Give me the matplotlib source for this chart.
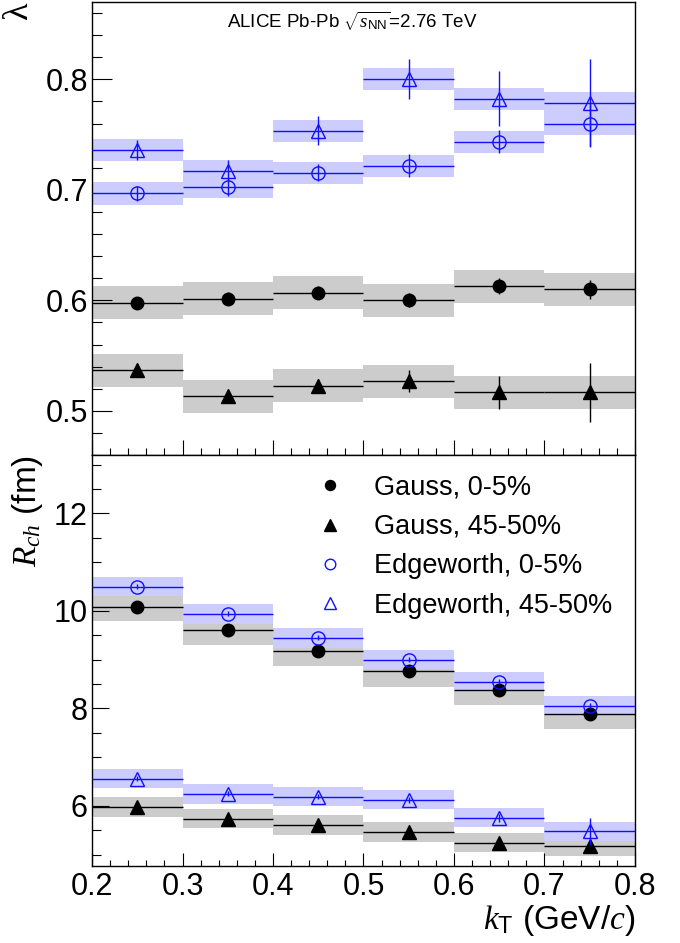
import matplotlib
matplotlib.use("Agg")
import matplotlib.pyplot as plt
from matplotlib.ticker import MultipleLocator, FormatStrFormatter

plt.rcParams['font.family'] = ['Liberation Sans', 'DejaVu Sans']
plt.rcParams['mathtext.fontset'] = 'custom'
plt.rcParams['mathtext.rm'] = 'Liberation Sans'
plt.rcParams['mathtext.sf'] = 'Liberation Sans'
plt.rcParams['mathtext.it'] = 'Liberation Serif:italic'
plt.rcParams['mathtext.bf'] = 'Liberation Sans:bold'

# ---------------- data ----------------
kt = [0.25, 0.35, 0.45, 0.55, 0.65, 0.75]
kt_halfwidth = [0.05, 0.05, 0.05, 0.05, 0.05, 0.05]

# lambda (top panel)
lam_gauss_c0 = [0.598, 0.6014, 0.6068, 0.6002, 0.6128, 0.6101]
lam_gauss_c0_stat = [0.005, 0.006, 0.006, 0.006, 0.0075, 0.0085]
lam_gauss_c0_sys = [0.015, 0.015, 0.015, 0.015, 0.015, 0.015]

lam_gauss_c45 = [0.5368, 0.5133, 0.5227, 0.5268, 0.5169, 0.5166]
lam_gauss_c45_stat = [0.004, 0.004, 0.006, 0.010, 0.015, 0.027]
lam_gauss_c45_sys = [0.015, 0.015, 0.015, 0.015, 0.015, 0.015]

lam_edge_c0 = [0.6967, 0.7024, 0.7156, 0.7219, 0.7436, 0.7593]
lam_edge_c0_stat = [0.007, 0.008, 0.008, 0.0105, 0.0105, 0.020]
lam_edge_c0_sys = [0.010, 0.010, 0.010, 0.010, 0.010, 0.010]

lam_edge_c45 = [0.7364, 0.7174, 0.7536, 0.8005, 0.7825, 0.7786]
lam_edge_c45_stat = [0.009, 0.010, 0.013, 0.018, 0.025, 0.040]
lam_edge_c45_sys = [0.010, 0.010, 0.010, 0.010, 0.010, 0.010]

# R_ch (bottom panel)
r_gauss_c0 = [10.09, 9.61, 9.18, 8.76, 8.38, 7.89]
r_gauss_c0_stat = [0.05, 0.05, 0.05, 0.05, 0.05, 0.05]
r_gauss_c0_sys = [0.30, 0.30, 0.30, 0.31, 0.31, 0.31]

r_gauss_c45 = [5.98, 5.74, 5.61, 5.47, 5.25, 5.18]
r_gauss_c45_stat = [0.05, 0.05, 0.05, 0.05, 0.06, 0.08]
r_gauss_c45_sys = [0.20, 0.20, 0.20, 0.20, 0.20, 0.20]

r_edge_c0 = [10.50, 9.94, 9.45, 9.00, 8.55, 8.06]
r_edge_c0_stat = [0.05, 0.05, 0.05, 0.05, 0.05, 0.06]
r_edge_c0_sys = [0.20, 0.20, 0.20, 0.20, 0.20, 0.20]

r_edge_c45 = [6.56, 6.25, 6.19, 6.13, 5.76, 5.48]
r_edge_c45_stat = [0.05, 0.05, 0.05, 0.06, 0.08, 0.27]
r_edge_c45_sys = [0.20, 0.20, 0.20, 0.20, 0.20, 0.20]

labels = ["Gauss, 0-5%", "Gauss, 45-50%", "Edgeworth, 0-5%", "Edgeworth, 45-50%"]

# ---------------- style ----------------
GRAY_BOX = '#cccccc'
BLUE_BOX = '#ccccff'
BLUE = '#1010ff'
LW = 1.0

fig = plt.figure(figsize=(6.8, 9.43), dpi=100)
ax1 = fig.add_axes([0.1353, 0.5175, 0.7985, 0.4804])
ax2 = fig.add_axes([0.1353, 0.0817, 0.7985, 0.4358])

width = [2 * h for h in kt_halfwidth]


def draw_sys(ax, y, sys, color, z):
    ax.bar(kt, [2 * s for s in sys], bottom=[a - s for a, s in zip(y, sys)],
           width=width, color=color, edgecolor='none', zorder=z)


def draw_pts(ax, y, stat, color, marker, filled, ms, z, label=None):
    ax.errorbar(kt, y, xerr=kt_halfwidth, yerr=stat, fmt=marker, color=color,
                ecolor=color, elinewidth=LW, capsize=0, ms=ms,
                mfc=color if filled else 'none', mec=color, mew=1.0,
                zorder=z, label=label)


series = [
    (ax1, lam_gauss_c0, lam_gauss_c0_stat, lam_gauss_c0_sys, GRAY_BOX, 'black', 'o', True, 9, None),
    (ax1, lam_gauss_c45, lam_gauss_c45_stat, lam_gauss_c45_sys, GRAY_BOX, 'black', '^', True, 10, None),
    (ax1, lam_edge_c0, lam_edge_c0_stat, lam_edge_c0_sys, BLUE_BOX, BLUE, 'o', False, 9.5, None),
    (ax1, lam_edge_c45, lam_edge_c45_stat, lam_edge_c45_sys, BLUE_BOX, BLUE, '^', False, 10.5, None),
    (ax2, r_gauss_c0, r_gauss_c0_stat, r_gauss_c0_sys, GRAY_BOX, 'black', 'o', True, 9, labels[0]),
    (ax2, r_gauss_c45, r_gauss_c45_stat, r_gauss_c45_sys, GRAY_BOX, 'black', '^', True, 10, labels[1]),
    (ax2, r_edge_c0, r_edge_c0_stat, r_edge_c0_sys, BLUE_BOX, BLUE, 'o', False, 9.5, labels[2]),
    (ax2, r_edge_c45, r_edge_c45_stat, r_edge_c45_sys, BLUE_BOX, BLUE, '^', False, 10.5, labels[3]),
]

for ax, y, st, sy, bc, c, m, f, ms, lab in series:
    draw_sys(ax, y, sy, bc, 1 if bc == GRAY_BOX else 2)
for ax, y, st, sy, bc, c, m, f, ms, lab in series:
    draw_pts(ax, y, st, c, m, f, ms, 3 if c == 'black' else 4, lab)

# ---------------- axes ----------------
for ax in (ax1, ax2):
    ax.set_xlim(0.2, 0.8)
    for sp in ax.spines.values():
        sp.set_linewidth(1.0)
    ax.xaxis.set_major_locator(MultipleLocator(0.1))
    ax.xaxis.set_minor_locator(MultipleLocator(0.02))
    ax.tick_params(which='both', direction='in', top=False, right=False,
                   labelsize=22, width=0.8)

ax1.set_ylim(0.46, 0.87)
ax1.yaxis.set_major_locator(MultipleLocator(0.1))
ax1.yaxis.set_minor_locator(MultipleLocator(0.02))
ax1.yaxis.set_major_formatter(FormatStrFormatter('%.1f'))
ax1.tick_params(axis='y', which='major', length=14.4, pad=3)
ax1.tick_params(axis='y', which='minor', length=7.2)
ax1.tick_params(axis='x', which='major', length=10.8, labelbottom=False)
ax1.tick_params(axis='x', which='minor', length=5)

ax2.set_ylim(4.77, 13.2)
ax2.yaxis.set_major_locator(MultipleLocator(2))
ax2.yaxis.set_minor_locator(MultipleLocator(0.5))
ax2.yaxis.set_major_formatter(FormatStrFormatter('%d'))
ax2.xaxis.set_major_formatter(FormatStrFormatter('%.1f'))
ax2.tick_params(axis='y', which='major', length=12, pad=3)
ax2.tick_params(axis='y', which='minor', length=6.5)
ax2.tick_params(axis='x', which='major', length=9.4, pad=4)
ax2.tick_params(axis='x', which='minor', length=4.5)

# rotated lambda title, aligned to the top of the upper axis
ax1.text(-0.135, 1.0, 'λ', transform=ax1.transAxes, rotation=90,
         rotation_mode='anchor', ha='right', va='center', fontsize=26,
         fontfamily=['Liberation Serif', 'DejaVu Serif'])
ax2.set_ylabel(r'$R_{ch}$ (fm)', fontsize=24, loc='top', labelpad=6)
ax2.set_xlabel(r'$k_{\mathrm{T}}$ (GeV/$c$)', fontsize=24, loc='right', labelpad=1)

ax1.text(0.479, 0.958, r'ALICE Pb-Pb $\sqrt{s_{\mathrm{NN}}}$=2.76 TeV',
         transform=ax1.transAxes, ha='center', va='center', fontsize=13.5)

handles, labs = ax2.get_legend_handles_labels()
leg_handles = [h[0] for h in handles]
ax2.legend(leg_handles, labs, loc='upper left', bbox_to_anchor=(0.414, 0.952),
           frameon=False, fontsize=19.5, handlelength=1.0, handletextpad=1.1,
           labelspacing=0.49, borderpad=0, borderaxespad=0, markerscale=0.8)

fig.savefig('out.png', dpi=100)
